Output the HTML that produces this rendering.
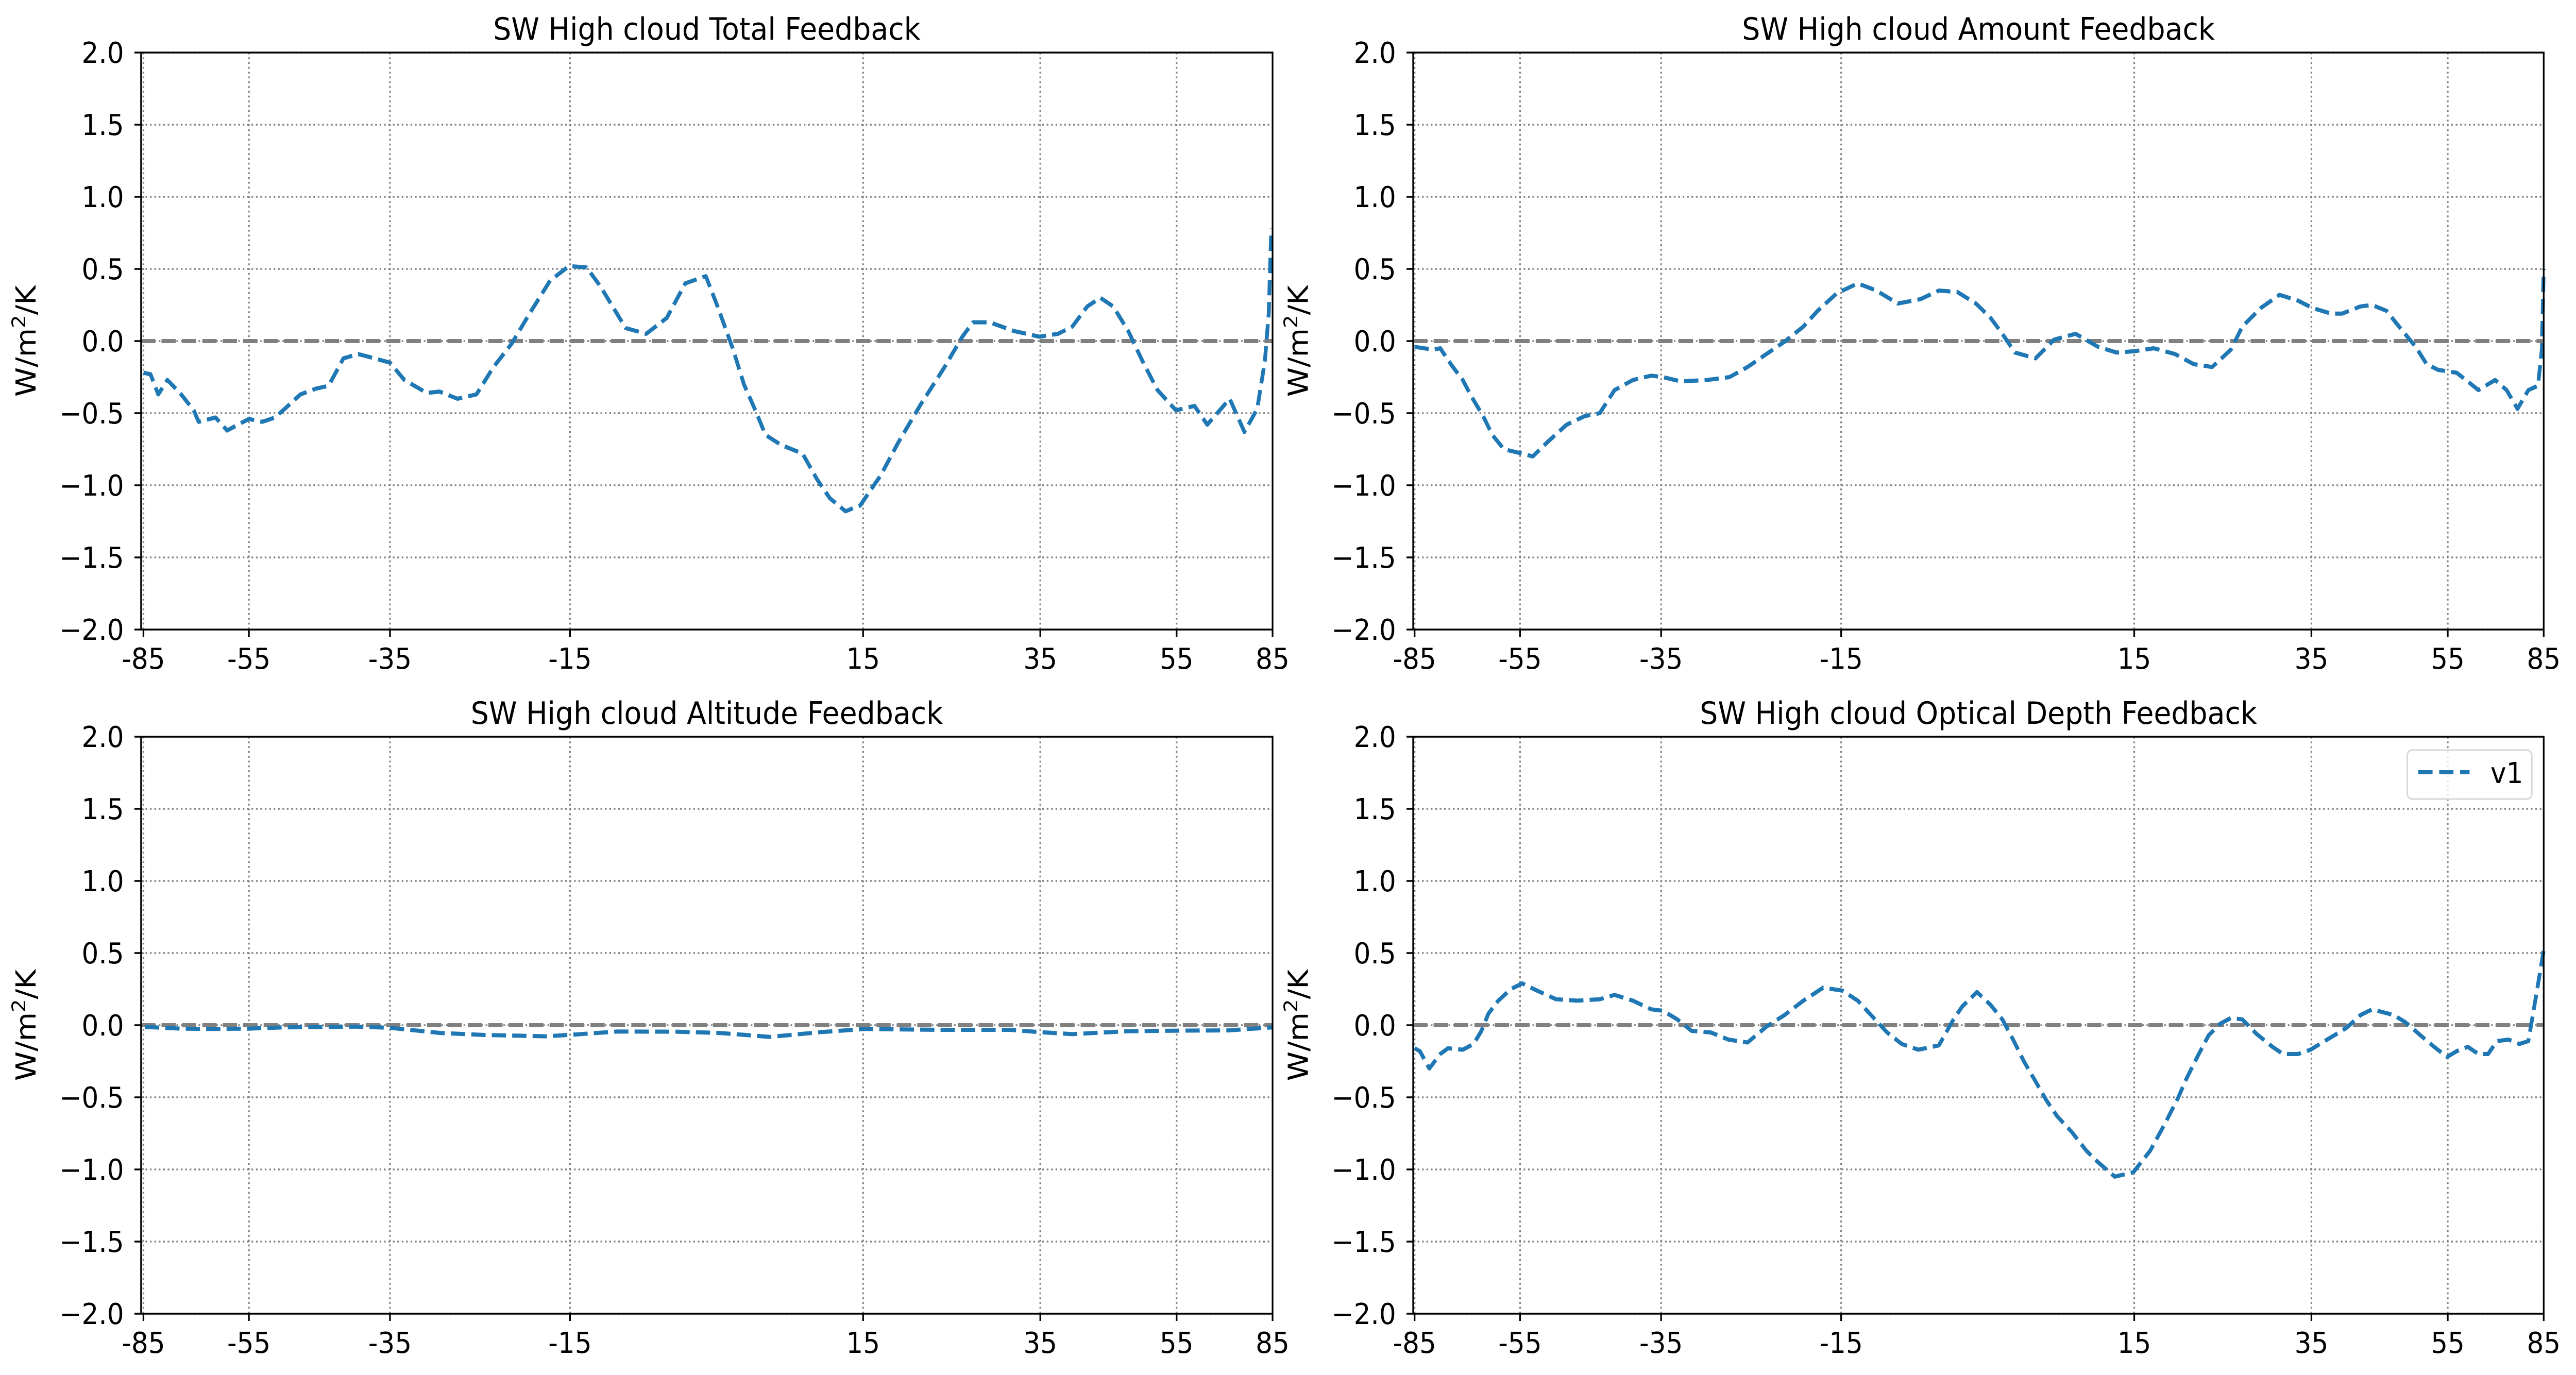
<!DOCTYPE html>
<html><head><meta charset="utf-8"><style>
html,body{margin:0;padding:0;background:#fff;overflow:hidden;width:100%;height:100%;}
svg{display:block;width:100vw;height:100vh;}
text{font-family:"DejaVu Sans","Liberation Sans",sans-serif;fill:#000;}
</style></head><body>
<svg id="fig" viewBox="0 0 5423 2669" preserveAspectRatio="none" xmlns="http://www.w3.org/2000/svg"></svg>
<script>
// ---- data ----
const xTickLabels = [-85, -55, -35, -15, 15, 35, 55, 85];
const yTickValues = [-2.0, -1.5, -1.0, -0.5, 0.0, 0.5, 1.0, 1.5, 2.0];
const panelTitles = ["SW High cloud Total Feedback", "SW High cloud Amount Feedback", "SW High cloud Altitude Feedback", "SW High cloud Optical Depth Feedback"];

const totalLat = [-85,-83,-80.8,-78.2,-74.6,-70.7,-69.3,-64.5,-61.2,-55,-53.1,-51.3,-49.7,-47.7,-45.5,-43.7,-41.6,-39.5,-37.2,-35,-33.4,-30.9,-29.5,-27.5,-25.4,-23.5,-21.5,-19.4,-17.2,-15.1,-13.3,-11.9,-9.3,-7.2,-5.1,-3.2,-1.1,0.1,1.7,2.8,4.1,5.0,6.6,8.8,10.3,11.6,13.2,14.7,17.0,19.0,21.5,24.1,26.2,27.4,29.3,32.0,34.9,37.6,39.7,41.9,43.8,45.7,47.9,50.0,52.2,54.9,60.6,64.6,71.6,76.2,80.2,82.6,83.8,84.6];
const totalVal = [-0.22,-0.23,-0.37,-0.27,-0.36,-0.48,-0.56,-0.53,-0.62,-0.54,-0.56,-0.53,-0.46,-0.37,-0.33,-0.31,-0.12,-0.09,-0.12,-0.15,-0.27,-0.36,-0.35,-0.40,-0.37,-0.18,-0.02,0.20,0.42,0.52,0.51,0.38,0.09,0.05,0.16,0.40,0.45,0.24,-0.06,-0.30,-0.50,-0.65,-0.72,-0.78,-0.96,-1.09,-1.18,-1.14,-0.93,-0.70,-0.44,-0.19,0.03,0.13,0.13,0.07,0.03,0.05,0.10,0.24,0.30,0.24,0.07,-0.14,-0.34,-0.48,-0.45,-0.58,-0.40,-0.63,-0.47,-0.14,0.19,0.78];

const amountLat = [-85,-79.7,-77.7,-74.4,-71.3,-68.7,-65.5,-62.9,-59.6,-54.7,-53.2,-51.1,-48.4,-45.8,-43.7,-41.6,-39.0,-36.4,-34.8,-32.8,-29.9,-27.4,-25.4,-23.3,-21.3,-19.2,-17.6,-15.5,-13.3,-11.4,-9.2,-6.9,-5.0,-3.1,-1.2,0.3,1.5,2.8,4.9,6.8,9.0,11.3,13.2,15.1,17.2,19.6,21.7,23.8,25.9,27.2,29.3,31.4,33.5,35.1,37.9,39.5,42.2,43.9,46.0,48.2,50.3,51.9,53.6,57.8,61.8,64.6,69.8,73.4,76.8,80.2,83.2,84.4,85];
const amountVal = [-0.04,-0.06,-0.05,-0.17,-0.27,-0.39,-0.52,-0.65,-0.75,-0.78,-0.80,-0.70,-0.58,-0.52,-0.50,-0.34,-0.27,-0.24,-0.25,-0.28,-0.27,-0.25,-0.18,-0.09,-0.005,0.10,0.21,0.33,0.40,0.35,0.26,0.29,0.35,0.34,0.26,0.16,0.05,-0.08,-0.12,0.01,0.05,-0.04,-0.08,-0.07,-0.05,-0.09,-0.16,-0.18,-0.06,0.10,0.23,0.32,0.28,0.23,0.19,0.19,0.24,0.25,0.21,0.08,-0.04,-0.16,-0.20,-0.22,-0.29,-0.34,-0.27,-0.34,-0.47,-0.34,-0.31,-0.06,0.50];

const altitudeLat = [-84.6,-74.1,-65.9,-55.4,-50.0,-39.8,-35.1,-29.4,-24.5,-17.7,-14.6,-10.1,-4.1,0.3,5.5,10.7,15.2,23.4,31.6,34.9,39.7,47.7,55.3,71.2,85];
const altitudeVal = [-0.012,-0.024,-0.026,-0.024,-0.015,-0.010,-0.018,-0.054,-0.068,-0.077,-0.065,-0.044,-0.045,-0.054,-0.081,-0.048,-0.026,-0.032,-0.032,-0.048,-0.062,-0.042,-0.038,-0.036,-0.015];

const opticalLat = [-85,-83.5,-80.8,-77.7,-75.5,-71.3,-68.2,-66.0,-64.0,-61.2,-57.6,-54.7,-52.6,-49.9,-46.9,-43.7,-41.6,-39.0,-36.4,-34.8,-33.2,-31.6,-29.5,-27.5,-25.4,-23.3,-21.3,-19.2,-17.0,-14.9,-13.3,-11.8,-10.3,-8.8,-7.1,-5.0,-3.5,-2.6,-1.1,0.3,1.5,2.6,3.7,4.9,6.0,7.1,8.6,10.1,11.3,13.0,14.9,16.8,18.4,19.9,20.9,22.2,23.4,24.7,25.9,27.2,28.8,30.6,31.8,33.5,34.9,37.3,40.1,42.2,43.9,47.1,48.8,51.0,53.0,54.9,57.8,61.3,64.6,67.6,70.4,74.0,77.4,80.2,82.6,85];
const opticalVal = [-0.16,-0.18,-0.30,-0.20,-0.16,-0.17,-0.13,-0.04,0.08,0.17,0.25,0.29,0.24,0.18,0.17,0.18,0.21,0.17,0.11,0.10,0.04,-0.04,-0.05,-0.10,-0.12,-0.01,0.07,0.17,0.26,0.24,0.17,0.06,-0.05,-0.13,-0.17,-0.14,0.04,0.13,0.23,0.14,0.04,-0.10,-0.25,-0.39,-0.52,-0.63,-0.74,-0.87,-0.95,-1.05,-1.02,-0.87,-0.69,-0.51,-0.37,-0.21,-0.07,0.01,0.05,0.04,-0.06,-0.15,-0.20,-0.20,-0.17,-0.10,-0.02,0.07,0.11,0.07,0.02,-0.07,-0.15,-0.22,-0.18,-0.15,-0.20,-0.20,-0.11,-0.10,-0.13,-0.11,0.20,0.52];

const seriesLat = [totalLat, amountLat, altitudeLat, opticalLat];
const seriesVal = [totalVal, amountVal, altitudeVal, opticalVal];

// ---- layout ----
const tickOffsets = [0, 222, 519, 898, 1515, 1888, 2175, 2377];
const panels = [
  {sl:297, sr:2679, x0:302, top:102, bottom:1222},
  {sl:2975, sr:5355, x0:2978, top:102, bottom:1222},
  {sl:297, sr:2679, x0:302, top:1430, bottom:2550},
  {sl:2975, sr:5355, x0:2978, top:1430, bottom:2550}
];
const NS = "http://www.w3.org/2000/svg";
const svg = document.getElementById("fig");
function mk(tag, attrs, parent){const e=document.createElementNS(NS,tag);for(const k in attrs)e.setAttribute(k,attrs[k]);(parent||svg).appendChild(e);return e;}

function xScale(p, lat){
  const t = xTickLabels;
  let i = 0;
  while (i < t.length-2 && lat > t[i+1]) i++;
  const f = (lat - t[i]) / (t[i+1] - t[i]);
  return p.x0 + tickOffsets[i] + f*(tickOffsets[i+1]-tickOffsets[i]);
}
function yScale(p, v){ return p.bottom - (v + 2) / 4 * (p.bottom - p.top); }

panels.forEach((p, pi) => {
  const g = mk("g", {});
  
  
  xTickLabels.forEach((t) => {
    const x = xScale(p, t);
    const l = mk("line", {x1:x, x2:x, y1:p.top, y2:p.bottom, stroke:"#808080", "stroke-width":3.5, "stroke-dasharray":"3.5 5.8"}, g);
    
    
  });
  yTickValues.forEach((v) => {
    const y = yScale(p, v);
    const l = mk("line", {x1:p.sl, x2:p.sr, y1:y, y2:y, stroke:"#808080", "stroke-width":3.5, "stroke-dasharray":"3.5 5.8"}, g);
    
    
  });
  const z = yScale(p, 0);
  const zl = mk("line", {x1:p.sl, x2:p.sr, y1:z, y2:z, stroke:"#808080", "stroke-width":8, "stroke-dasharray":"30 13"}, g);
  
  
  const lats = seriesLat[pi], vals = seriesVal[pi];
  let d = "";
  lats.forEach((la, i) => { d += (i ? "L" : "M") + xScale(p, la).toFixed(1) + " " + yScale(p, vals[i]).toFixed(1); });
  const path = mk("path", {d:d, fill:"none", stroke:"#1f77b4", "stroke-width":8, "stroke-dasharray":"30 13", "stroke-linejoin":"round"}, g);
  
  
  const sp = mk("rect", {x:p.sl, y:p.top, width:p.sr-p.sl, height:p.bottom-p.top, fill:"none", stroke:"#000", "stroke-width":3.5}, g);
  
  
  xTickLabels.forEach((t) => {
    const x = xScale(p, t);
    const tk = mk("line", {x1:x, x2:x, y1:p.bottom, y2:p.bottom+14, stroke:"#000", "stroke-width":3.5}, g);
    
    
    const tx = mk("text", {x:x, y:p.bottom+76, "text-anchor":"middle", "font-size":56}, g);
    tx.textContent = String(t);
    
    
  });
  yTickValues.forEach((v) => {
    const y = yScale(p, v);
    const tk = mk("line", {x1:p.sl-14, x2:p.sl, y1:y, y2:y, stroke:"#000", "stroke-width":3.5}, g);
    
    
    const tx = mk("text", {x:p.sl-36, y:y+20, "text-anchor":"end", "font-size":56}, g);
    tx.textContent = (v < 0 ? "\u2212" : "") + Math.abs(v).toFixed(1);
    
    
  });
  const cy = (p.top + p.bottom) / 2, lx = p.sl - 222;
  const yl = mk("text", {x:lx, y:cy, "text-anchor":"middle", "font-size":58, transform:"rotate(-90 "+lx+" "+cy+")"}, g);
  yl.innerHTML = 'W/m<tspan dy="-22" font-size="40">2</tspan><tspan dy="22">/K</tspan>';
  
  
  const tt = mk("text", {x:(p.sl+p.sr)/2, y:p.top-25, "text-anchor":"middle", "font-size":60}, g);
  tt.textContent = panelTitles[pi];
  
  
});

const lg = mk("g", {});


const lb = mk("rect", {x:5068, y:1456, width:262, height:95, rx:10, fill:"#fff", "fill-opacity":0.8, stroke:"#d6d6d6", "stroke-width":3}, lg);


const lh = mk("line", {x1:5091, x2:5199, y1:1499, y2:1499, stroke:"#1f77b4", "stroke-width":8, "stroke-dasharray":"30 14"}, lg);


const lt = mk("text", {x:5243, y:1520, "font-size":56}, lg);
lt.textContent = "v1";


</script>
</body></html>
